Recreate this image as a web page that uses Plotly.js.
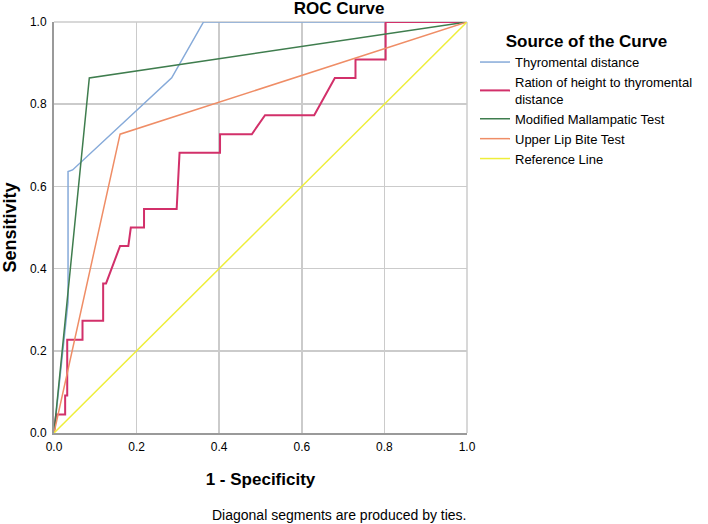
<!DOCTYPE html>
<html>
<head>
<meta charset="utf-8">
<script src="https://cdn.plot.ly/plotly-3.0.1.min.js"></script>
<style>html,body{margin:0;padding:0;background:#fff;}#chart{width:708px;height:524px;}</style>
</head>
<body>
<div id="chart"></div>
<script>
// Series names
const seriesNames = [
  "Thyromental distance",
  "Ration of height to thyromental<br>distance",
  "Modified Mallampatic Test",
  "Upper Lip Bite Test",
  "Reference Line"
];
// 1 - Specificity (x) and Sensitivity (y) for each curve
const thyroX = [0, 0.034, 0.034, 0.045, 0.285, 0.362, 1];
const thyroY = [0, 0.318, 0.636, 0.640, 0.864, 1, 1];

const ratioX = [0, 0.005, 0.027, 0.027, 0.032, 0.032, 0.069, 0.069, 0.119, 0.119, 0.126, 0.160, 0.180, 0.186, 0.218, 0.218, 0.297, 0.304, 0.402, 0.402, 0.479, 0.511, 0.630, 0.680, 0.730, 0.730, 0.803, 0.803, 1];
const ratioY = [0, 0.045, 0.045, 0.091, 0.091, 0.227, 0.227, 0.273, 0.273, 0.364, 0.364, 0.455, 0.455, 0.500, 0.500, 0.545, 0.545, 0.682, 0.682, 0.727, 0.727, 0.773, 0.773, 0.864, 0.864, 0.909, 0.909, 1, 1];

const mallX = [0, 0.0855, 1];
const mallY = [0, 0.864, 1];

const ulbtX = [0, 0.160, 1];
const ulbtY = [0, 0.727, 1];

const refX = [0, 1];
const refY = [0, 1];

const tickVals = [0, 0.2, 0.4, 0.6, 0.8, 1.0];
const tickText = ["0.0", "0.2", "0.4", "0.6", "0.8", "1.0"];

const colors = ["#86aad9", "#d2306a", "#3f7d4e", "#ef8d66", "#eeee3a"];
const widths = [1.5, 2, 1.5, 1.5, 1.5];
const xs = [thyroX, ratioX, mallX, ulbtX, refX];
const ys = [thyroY, ratioY, mallY, ulbtY, refY];

const traces = seriesNames.map((n, i) => ({
  x: xs[i], y: ys[i], name: n, type: "scatter", mode: "lines",
  line: {color: colors[i], width: widths[i]}
}));

const FONT = "Liberation Sans, Arial, sans-serif";
const layout = {
  width: 708, height: 524,
  paper_bgcolor: "#ffffff", plot_bgcolor: "#ffffff",
  margin: {l: 54, r: 241, t: 22, b: 91},
  font: {family: FONT, color: "#000", size: 12},
  title: {text: "<b>ROC Curve</b>", font: {size: 17, family: FONT}, xref: "container", yref: "container", x: 339/708, xanchor: "center", y: 1 - 8/524, yanchor: "middle"},
  xaxis: {
    range: [0, 1], tickvals: tickVals, ticktext: tickText, showgrid: true, gridcolor: "#cbcbcb", gridwidth: 1.5,
    zeroline: false, showline: true, linecolor: "#9a9a9a", linewidth: 2, ticks: "", fixedrange: true,
    tickfont: {size: 12}, ticklabelstandoff: 2,
    title: {text: "<b>1 - Specificity</b>", font: {size: 17}, standoff: 20}
  },
  yaxis: {
    range: [0, 1], tickvals: tickVals, ticktext: tickText, showgrid: true, gridcolor: "#cbcbcb", gridwidth: 1.5,
    zeroline: false, showline: true, linecolor: "#9a9a9a", linewidth: 2, ticks: "", fixedrange: true,
    tickfont: {size: 12}, ticklabelstandoff: 3,
    title: {text: "<b>Sensitivity</b>", font: {size: 18}, standoff: 16}
  },
  legend: {
    xref: "container", yref: "container", x: 475/708, xanchor: "left", y: 1 - 25/524, yanchor: "top",
    font: {size: 13, family: FONT}, bgcolor: "rgba(0,0,0,0)", tracegroupgap: 0,
    title: {text: "<b>Source of the Curve</b>", font: {size: 17, family: FONT}, side: "top center"}
  },
  showlegend: true,
  annotations: [{
    text: "Diagonal segments are produced by ties.", showarrow: false,
    xref: "paper", yref: "paper", x: (339 - 54)/413, xanchor: "center", y: (433 - 515)/411, yanchor: "middle",
    font: {size: 14, family: FONT}
  }],
  shapes: [
    {type: "line", xref: "paper", yref: "paper", x0: 0, x1: 1, y0: 1, y1: 1, line: {color: "#cbcbcb", width: 1.5}, layer: "below"},
    {type: "line", xref: "paper", yref: "paper", x0: 1, x1: 1, y0: 0, y1: 1, line: {color: "#cbcbcb", width: 1.5}, layer: "below"}
  ]
};

Plotly.newPlot("chart", traces, layout, {displayModeBar: false, staticPlot: true});
</script>
</body>
</html>
